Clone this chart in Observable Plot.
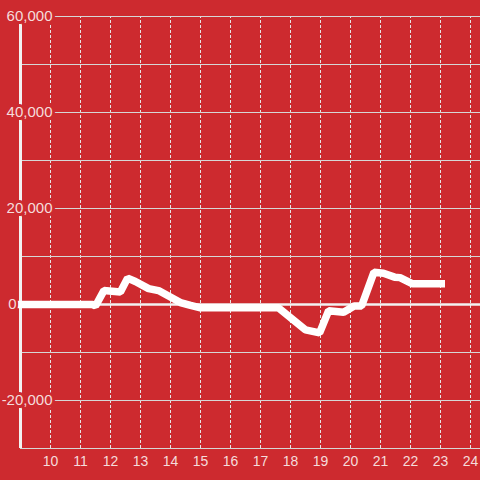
<!DOCTYPE html>
<html>
<head>
<meta charset="utf-8">
<script src="https://cdn.jsdelivr.net/npm/d3@7"></script>
<script src="https://cdn.jsdelivr.net/npm/@observablehq/plot@0.6"></script>
<style>
  html, body { margin: 0; padding: 0; background: #cd2a2f; }
</style>
</head>
<body>
<div id="chart"></div>
<script>
const hours = [8.9, 11.4, 11.5, 11.78, 12.33, 12.57, 12.83, 13.27, 13.6, 14.33, 14.67, 15.0, 17.6, 18.5, 18.97, 19.27, 19.77, 20.12, 20.37, 20.78, 21.1, 21.47, 21.65, 22.07, 23.15];
const values = [0, 0, -300, 2900, 2600, 5500, 4800, 3300, 2900, 400, -200, -700, -700, -5300, -5900, -1300, -1600, -300, -300, 6700, 6500, 5700, 5600, 4300, 4300];
const xTicks = [10, 11, 12, 13, 14, 15, 16, 17, 18, 19, 20, 21, 22, 23, 24];
const yGrid = [-30000, -20000, -10000, 10000, 20000, 30000, 40000, 50000, 60000];
const yLabels = [60000, 40000, 20000, -20000];
const zeroLabel = [0];
const xDomain = [9, 24.333];
const yDomain = [-30000, 60000];

const data = hours.map((h, i) => ({h, v: values[i]}));
const bg = "#cd2a2f";
const fmt = d => d.toLocaleString("en-US");

const chart = Plot.plot({
  width: 480,
  height: 480,
  marginLeft: 20,
  marginRight: 0,
  marginTop: 16,
  marginBottom: 32,
  x: {domain: xDomain, axis: null},
  y: {domain: yDomain, axis: null},
  style: {background: bg, fontFamily: "'Liberation Sans', Arial, sans-serif", overflow: "visible"},
  marks: [
    Plot.ruleX(xTicks, {x: d => d, y1: yDomain[0], y2: yDomain[1], stroke: "#e6e6e6", strokeDasharray: "3,2", strokeWidth: 1}),
    Plot.ruleY(yGrid, {y: d => d, x1: xDomain[0], x2: xDomain[1], stroke: "#d6d6d6", strokeWidth: 1}),
    Plot.ruleY(zeroLabel, {y: d => d, x1: xDomain[0], x2: xDomain[1], stroke: "#f2f2f2", strokeWidth: 2.5}),
    Plot.ruleX([xDomain[0]], {y1: yDomain[0], y2: yDomain[1], stroke: "#f2f2f2", strokeWidth: 3}),
    Plot.line(data, {x: "h", y: "v", stroke: "#ffffff", strokeWidth: 7.5, strokeLinejoin: "miter", strokeLinecap: "butt"}),
    Plot.text(yLabels, {x: xDomain[0], y: d => d, text: fmt, textAnchor: "end", dx: 32, fontSize: 15, fill: "#f5dcdc", stroke: bg, strokeWidth: 6}),
    Plot.text(zeroLabel, {x: xDomain[0], y: d => d, text: fmt, textAnchor: "end", dx: -4, fontSize: 15, fill: "#f5dcdc", stroke: bg, strokeWidth: 4}),
    Plot.text(xTicks, {x: d => d, y: yDomain[0], text: d => String(d), dy: 13, fontSize: 14, fill: "#f5dcdc"})
  ]
});
document.getElementById("chart").appendChild(chart);
</script>
</body>
</html>
